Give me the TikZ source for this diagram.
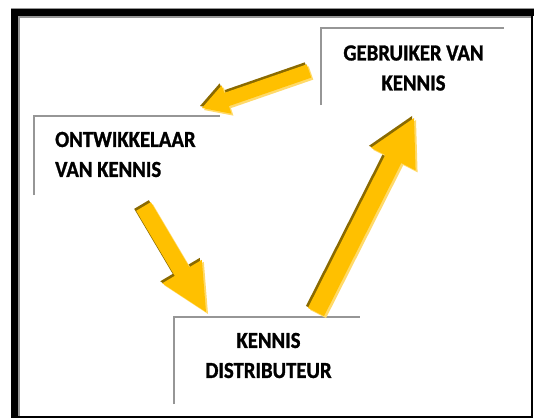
\documentclass[tikz,border=0pt]{standalone}
\usepackage{fontspec}
\setmainfont{Carlito}
\newfontfamily\lblfont[UprightFont=* Bold, FakeStretch=0.9, FakeBold=1.2]{Carlito}
\usetikzlibrary{calc}
\definecolor{arrmain}{HTML}{FFC000}
\definecolor{arrdark}{HTML}{8A6A00}
\definecolor{arrlight}{HTML}{FFDA6A}
\definecolor{boxgray}{HTML}{969696}
\newcommand{\arrpath}[5]{% tail, tip, shaft width, head width, head length (base coordinate named #1b)
  ($(#1)!#3/2!90:(#2)$) -- ($(#1b)!#3/2!90:(#2)$) -- ($(#1b)!#4/2!90:(#2)$) -- (#2)
  -- ($(#1b)!#4/2!-90:(#2)$) -- ($(#1b)!#3/2!-90:(#2)$) -- ($(#1)!#3/2!-90:(#2)$) -- cycle}
\newcommand{\blockarrow}[5]{%
  \coordinate (#1b) at ($(#2)!#5!(#1)$);
  \begin{scope}[transform canvas={shift={(-2,-2)}}]
    \fill[arrdark] \arrpath{#1}{#2}{#3}{#4}{#5};
  \end{scope}
  \begin{scope}[transform canvas={shift={(2,2)}}]
    \fill[arrlight] \arrpath{#1}{#2}{#3}{#4}{#5};
  \end{scope}
  \fill[arrmain] \arrpath{#1}{#2}{#3}{#4}{#5};}
\tikzset{
  openbox/.style={draw=none, inner sep=0pt},
  boxline/.style={draw=boxgray, line width=2.4pt},
  lbl/.style={font=\fontsize{23}{30}\lblfont, inner sep=0pt, align=center},
}
\begin{document}
\begin{tikzpicture}[x=1pt, y=-1pt]
\useasboundingbox (0,0) rectangle (534,419);
\fill[white] (0,0) rectangle (534,419);
% frame
\draw[boxgray, line width=0.8pt] (11,8.4) -- (534,8.4);
\fill[black] (11,9) rectangle (17.5,418);
\fill[black] (11,9) rectangle (534,16);
\draw[boxgray, line width=2pt] (18.6,418) -- (18.6,17) -- (531,17);
\fill[black] (531,9) rectangle (533,418);
\fill[black] (11,416) rectangle (533,418);
% boxes
\node[openbox, minimum width=183pt, minimum height=77pt] (geb) at (412.5,66.5) {};
\node[openbox, minimum width=186pt, minimum height=79pt] (ont) at (127,155.5) {};
\node[openbox, minimum width=186pt, minimum height=87pt] (dis) at (267,360.5) {};
\draw[boxline] (geb.south west) -- (geb.north west) -- (geb.north east);
\draw[boxline] (ont.south west) -- (ont.north west) -- (ont.north east);
\draw[boxline] (dis.south west) -- (dis.north west) -- (dis.north east);
% labels
\node[lbl] (gebl) at (413.5,68) {GEBRUIKER VAN\\KENNIS};
\node[lbl, align=left, anchor=west] (ontl) at (55,154.5) {ONTWIKKELAAR\\VAN KENNIS};
\node[lbl] (disl) at (268.5,355.5) {KENNIS\\DISTRIBUTEUR};
% arrows
\coordinate (a1t) at (309,71);
\coordinate (a1h) at (202,108);
\coordinate (a2t) at (143.5,206.5);
\coordinate (a2h) at (206,312);
\coordinate (a3t) at (316,312);
\coordinate (a3h) at (414,118);
\blockarrow{a1t}{a1h}{14pt}{30pt}{26pt}
\blockarrow{a2t}{a2h}{17pt}{46pt}{47pt}
\blockarrow{a3t}{a3h}{18pt}{50pt}{46pt}
\end{tikzpicture}
\end{document}
